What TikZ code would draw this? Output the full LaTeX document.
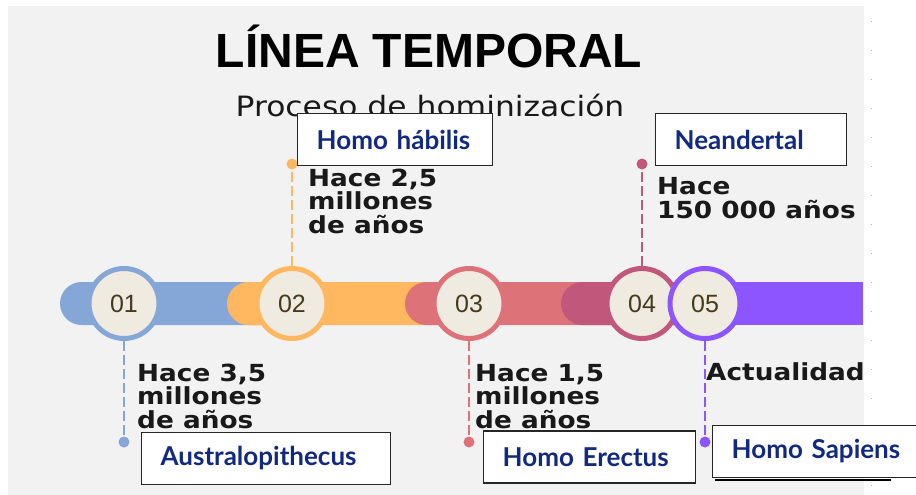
\documentclass[tikz,border=0pt]{standalone}
\usepackage{fontspec}
\setmainfont{Liberation Sans}
\newfontfamily\titlefont{Liberation Sans}
\newfontfamily\widefont[FakeStretch=1.12]{DejaVu Sans}
\newfontfamily\tagfont{Lato}
\definecolor{bgray}{HTML}{F2F2F2}
\definecolor{tblue}{HTML}{85A7D8}
\definecolor{torange}{HTML}{FFB760}
\definecolor{tred}{HTML}{DD7379}
\definecolor{tpink}{HTML}{C1587C}
\definecolor{tpurple}{HTML}{8C55FF}
\definecolor{tbeige}{HTML}{EFEBE0}
\definecolor{tnum}{HTML}{453A1C}
\definecolor{tnavy}{HTML}{11297F}
\begin{document}
\begin{tikzpicture}[x=1pt,y=-1pt,
  every node/.style={inner sep=0pt},
  bar/.style={rounded corners=21.5pt},
  stage/.style={circle,fill=tbeige,draw=#1,line width=5pt,minimum size=70pt,text=tnum,font=\fontsize{25}{25}\selectfont},
  stem/.style={draw=#1,line width=2.5pt,dash pattern=on 10pt off 4pt},
  tip/.style={circle,fill=#1,minimum size=11pt},
  date/.style={anchor=base west,align=left,text=black!90,font=\widefont\bfseries\fontsize{23.5}{23.5}\selectfont},
  tag/.style={anchor=west,draw=black!85,line width=1.3pt,fill=white,inner xsep=19pt,text width=#1,align=left,minimum height=52pt,text=tnavy,font=\tagfont\bfseries\fontsize{26}{26}\selectfont}]
\useasboundingbox (0,0) rectangle (916,495);
\fill [bgray] (8,6) rectangle (864,495);
\draw [black!30,line width=1pt,dash pattern=on 1pt off 28pt] (871,21) -- (871,495);
\node [anchor=base] (title) at (429,67) {\titlefont\bfseries\fontsize{48}{48}\selectfont LÍNEA TEMPORAL};
\node [anchor=base,text=black!90] (subtitle) at (430,117) {\widefont\fontsize{28}{28}\selectfont Proceso de hominización};
\fill [tblue,bar] (60,282) rectangle (310,325);
\fill [torange,bar] (227,282) rectangle (480,325);
\fill [tred,bar] (405,282) rectangle (650,325);
\fill [tpink,bar] (561,282) rectangle (712,325);
\fill [tpurple] (705,282) rectangle (863,325);
\node [tip=tblue] (t1) at (124,442) {};
\node [tip=torange] (t2) at (292,164) {};
\node [tip=tred] (t3) at (469,442) {};
\node [tip=tpink] (t4) at (642,164) {};
\node [tip=tpurple] (t5) at (705,442) {};
\node [stage=tblue] (s1) at (124,303.5) {01};
\node [stage=torange] (s2) at (292,303.5) {02};
\node [stage=tred] (s3) at (469,303.5) {03};
\node [stage=tpink] (s4) at (642,303.5) {04};
\node [stage=tpurple] (s5) at (705,303.5) {05};
\draw [stem=tblue] (s1) -- (t1);
\draw [stem=torange] (s2) -- (t2);
\draw [stem=tred] (s3) -- (t3);
\draw [stem=tpink] (s4) -- (t4);
\draw [stem=tpurple] (s5) -- (t5);
\node [date] (d1) at (137,428) {Hace 3,5\\millones\\de años};
\node [date] (d2) at (308,233) {Hace 2,5\\millones\\de años};
\node [date] (d3) at (475,428) {Hace 1,5\\millones\\de años};
\node [date] (d4) at (657,218) {Hace\\150 000 años};
\node [date] (d5) at (706,380) {Actualidad};
\node [tag=211pt] (aus) at (141,458.5) {Australopithecus};
\node [tag=157pt] (hab) at (297,139.5) {Homo hábilis};
\node [tag=174pt] (ere) at (483,457) {Homo Erectus};
\node [tag=153pt] (nea) at (655,139.5) {Neandertal};
\node [tag=170pt] (sap) at (712,451.5) {Homo Sapiens};
\draw [black,line width=2pt] ([xshift=3pt,yshift=-2pt]sap.south west) -- ([xshift=-30pt,yshift=-2pt]sap.south east);
\end{tikzpicture}
\end{document}
